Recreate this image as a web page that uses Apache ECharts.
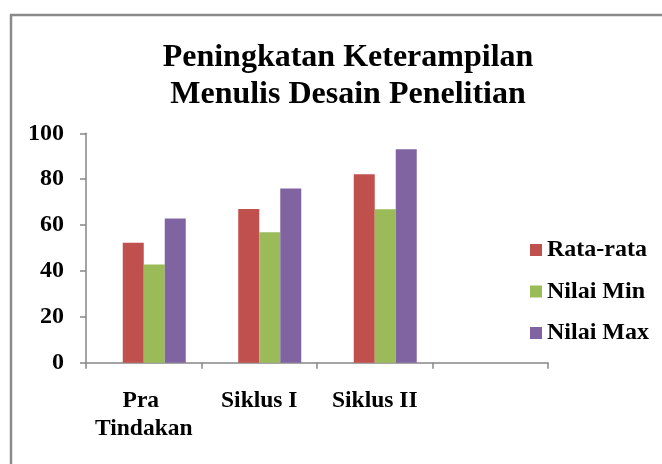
<!DOCTYPE html>
<html>
<head>
<meta charset="utf-8">
<script src="https://cdn.jsdelivr.net/npm/echarts@6/dist/echarts.min.js"></script>
<style>
html,body{margin:0;padding:0;background:#fff;}
#chart{width:662px;height:464px;}
</style>
</head>
<body>
<div id="chart"></div>
<script>
var titleText = "Peningkatan Keterampilan\nMenulis Desain Penelitian";
var categories = ["Pra Tindakan", "Siklus I", "Siklus II", ""];
var seriesNames = ["Rata-rata", "Nilai Min", "Nilai Max"];
var rataRata = [52.3, 67, 82.2];
var nilaiMin = [42.8, 56.9, 66.9];
var nilaiMax = [62.9, 75.9, 93];
var yTicks = [0, 20, 40, 60, 80, 100];
var colors = ["#C0504D", "#9BBB59", "#8064A2"];

var font = "'Liberation Serif', 'Times New Roman', serif";
var chart = echarts.init(document.getElementById('chart'));
var valueLists = [rataRata, nilaiMin, nilaiMax];

var series = [{
  name: "_empty",
  type: "bar",
  barWidth: 21,
  barGap: "0%",
  data: categories.map(function(){ return null; })
}];
seriesNames.forEach(function(n, i){
  series.push({
    name: n,
    type: "bar",
    barWidth: 21,
    barGap: "0%",
    itemStyle: { color: colors[i] },
    data: valueLists[i]
  });
});

chart.setOption({
  animation: false,
  backgroundColor: "#fff",
  color: colors,
  title: {
    text: titleText,
    left: 343,
    textAlign: "center",
    top: 34,
    textStyle: { fontFamily: font, fontWeight: "bold", fontSize: 32, lineHeight: 37, color: "#000" }
  },
  graphic: [{
    type: "rect",
    shape: { x: 11, y: 15, width: 720, height: 520 },
    style: { fill: null, stroke: "#8a8a8a", lineWidth: 2.5 },
    silent: true
  }],
  legend: {
    data: seriesNames,
    orient: "vertical",
    left: 530,
    top: 238,
    padding: 0,
    icon: "rect",
    itemWidth: 12,
    itemHeight: 12,
    itemGap: 17.5,
    textStyle: { fontFamily: font, fontWeight: "bold", fontSize: 24, lineHeight: 24, color: "#000", padding: [0,0,0,0] }
  },
  grid: { left: 86, right: 114, top: 133.3, bottom: 101.3, containLabel: false },
  xAxis: {
    type: "category",
    data: categories,
    boundaryGap: true,
    axisLine: { lineStyle: { color: "#868686", width: 1.5 } },
    axisTick: { show: true, length: 6, alignWithLabel: false, lineStyle: { color: "#868686", width: 1.5 } },
    axisLabel: {
      margin: 24,
      interval: 0,
      width: 112,
      overflow: "break",
      fontFamily: font,
      fontWeight: "bold",
      fontSize: 23.5,
      lineHeight: 28,
      color: "#000"
    },
    splitLine: { show: false }
  },
  yAxis: {
    type: "value",
    min: yTicks[0],
    max: yTicks[yTicks.length - 1],
    interval: yTicks[1] - yTicks[0],
    axisLine: { show: true, lineStyle: { color: "#868686", width: 1.5 } },
    axisTick: { show: true, length: 6, lineStyle: { color: "#868686", width: 1.5 } },
    axisLabel: { margin: 22, fontFamily: font, fontWeight: "bold", fontSize: 24, color: "#000" },
    splitLine: { show: false }
  },
  series: series
});
</script>
</body>
</html>
